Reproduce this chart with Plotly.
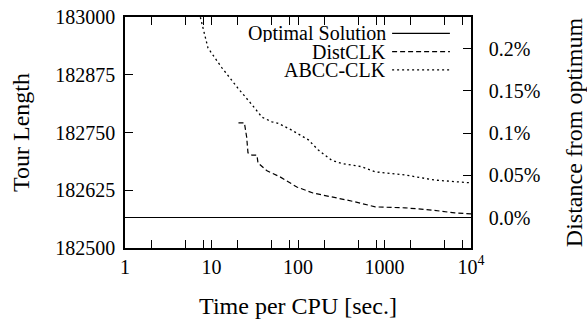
import plotly.graph_objects as go

# ---- data ----
OPTIMUM = 182566
opt_time = [1, 10000]

dist_time = [20.5, 24, 25.5, 26.4, 29.4, 33.5, 34.5, 43.8, 62, 97, 149, 282, 457, 780, 1730, 3540, 5000, 6500, 10000]
dist_len = [182771, 182771, 182740, 182706, 182701, 182701, 182684, 182667, 182654, 182632, 182619, 182608, 182600, 182589, 182587, 182582, 182578, 182576, 182574]

abcc_time = [7.2, 9.1, 13.2, 20.2, 29.4, 38.4, 50, 59, 85, 132, 172, 245, 318, 545, 780, 1730, 3830, 10000]
abcc_len = [183010, 182933, 182890, 182846, 182810, 182783, 182773, 182770, 182755, 182734, 182712, 182690, 182683, 182676, 182665, 182658, 182647, 182641]

x_tickvals = [1, 10, 100, 1000, 10000]
x_ticktext = ["1", "10", "100", "1000", "10<sup>4</sup>"]
x_minor = [2, 5, 8, 20, 50, 80, 200, 500, 800, 2000, 5000, 8000]
y_tickvals = [182500, 182625, 182750, 182875, 183000]
y_ticktext = ["182500", "182625", "182750", "182875", "183000"]
pct_vals = [0.0, 0.05, 0.1, 0.15, 0.2]
pct_text = ["0.0%", "0.05%", "0.1%", "0.15%", "0.2%"]

legend_names = ["Optimal Solution", "DistCLK", "ABCC-CLK"]
legend_dash = ["solid", "5px,3px", "2px,3px"]

FONT = "Liberation Serif"
FS = 20

fig = go.Figure()
fig.add_trace(go.Scatter(x=opt_time, y=[OPTIMUM, OPTIMUM], mode="lines",
                         line=dict(color="black", width=1), showlegend=False))
fig.add_trace(go.Scatter(x=dist_time, y=dist_len, mode="lines",
                         line=dict(color="black", width=1.2, dash=legend_dash[1]), showlegend=False))
fig.add_trace(go.Scatter(x=abcc_time, y=abcc_len, mode="lines",
                         line=dict(color="black", width=1.3, dash=legend_dash[2]), showlegend=False))
# invisible trace to activate y2
fig.add_trace(go.Scatter(x=[1], y=[OPTIMUM], yaxis="y2", mode="markers",
                         marker=dict(opacity=0), showlegend=False, hoverinfo="skip"))

# manual legend (text left of sample, as in the reference)
row_y = [0.929, 0.850, 0.771]
for name, dash, yy in zip(legend_names, legend_dash, row_y):
    fig.add_annotation(x=0.760, y=yy, xref="paper", yref="paper", text=name,
                       showarrow=False, xanchor="right", yanchor="middle", height=17,
                       font=dict(family=FONT, size=FS, color="black"))
    fig.add_shape(type="line", xref="paper", yref="paper", x0=0.772, x1=0.939, y0=yy, y1=yy,
                  line=dict(color="black", width=1.2, dash=dash))

fig.update_layout(
    width=587, height=323,
    margin=dict(l=125, r=116, t=17, b=75),
    paper_bgcolor="white", plot_bgcolor="white",
    font=dict(family=FONT, size=FS, color="black"),
    xaxis=dict(type="log", range=[0, 4], tickvals=x_tickvals, ticktext=x_ticktext,
               ticks="inside", ticklen=8, tickwidth=1, tickcolor="black",
               minor=dict(tickmode="array", tickvals=x_minor, ticks="inside", ticklen=5,
                          tickwidth=1, tickcolor="black", showgrid=False),
               showline=True, linecolor="black", linewidth=1.6, mirror="allticks",
               showgrid=False, zeroline=False, automargin=False,
               title=dict(text="Time per CPU [sec.]", standoff=20)),
    yaxis=dict(range=[182500, 183000], tickvals=y_tickvals, ticktext=y_ticktext,
               ticks="inside", ticklen=8, tickwidth=1, tickcolor="black",
               showline=True, linecolor="black", linewidth=1.6,
               showgrid=False, zeroline=False, ticklabelstandoff=4, automargin=False,
               title=dict(text="Tour Length", standoff=19)),
    yaxis2=dict(range=[182500, 183000], overlaying="y", side="right",
                tickvals=[OPTIMUM * (1 + p / 100) for p in pct_vals], ticktext=pct_text,
                ticks="inside", ticklen=8, tickwidth=1, tickcolor="black",
                showline=True, linecolor="black", linewidth=1.6,
                showgrid=False, zeroline=False, ticklabelstandoff=12, automargin=False,
                title=dict(text="Distance from optimum", standoff=26)),
)

fig.write_html("out.html")
